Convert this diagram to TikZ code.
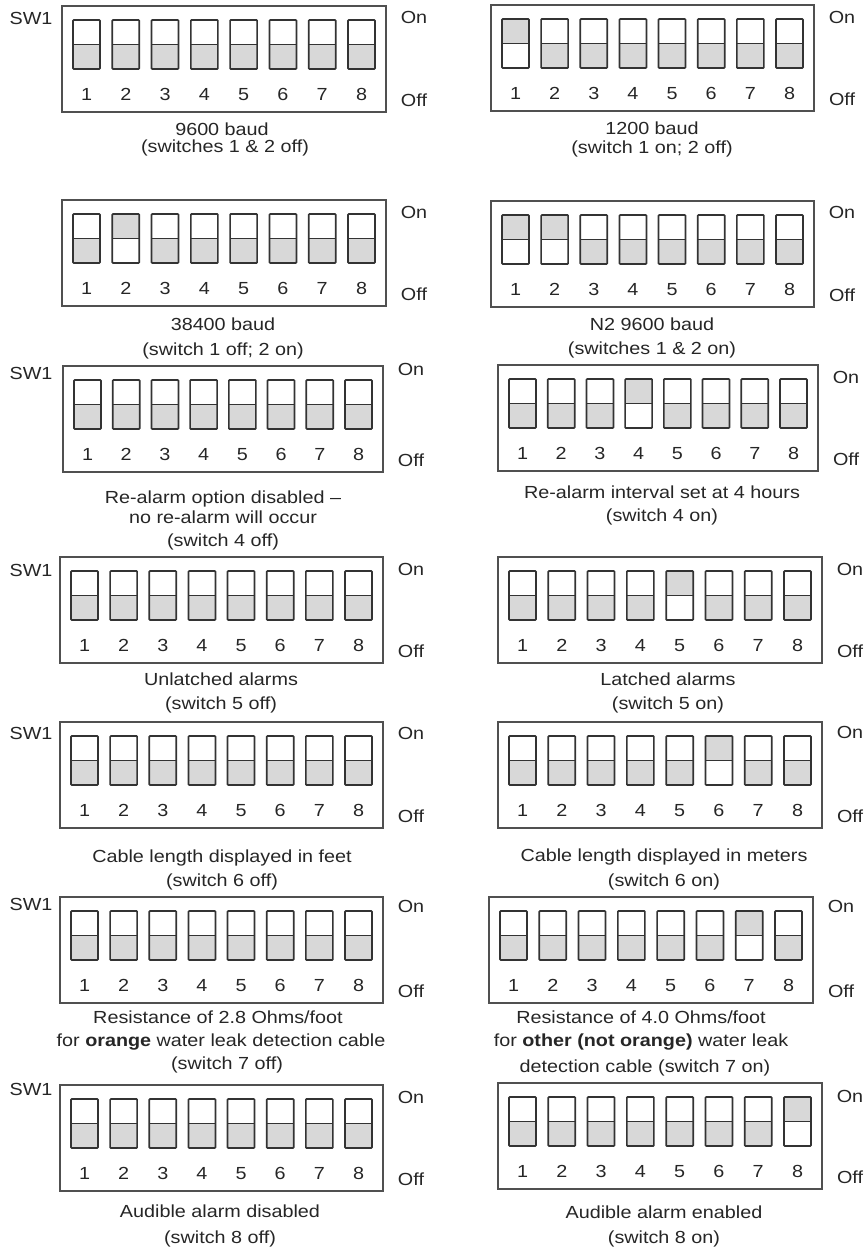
\documentclass[tikz,border=0pt]{standalone}
\usepackage{fontspec}
\setmainfont{Liberation Sans}
\definecolor{txt}{HTML}{262626}
\definecolor{frame}{HTML}{505050}
\definecolor{swline}{HTML}{333333}
\definecolor{swfill}{HTML}{D8D8D8}
\newcommand{\stx}[1]{\scalebox{1.13}[1]{#1}}
\tikzset{
  lbl/.style={font=\fontsize{17.5}{20}\selectfont, text=txt, inner sep=0pt, text height=12.5pt, text depth=0pt, anchor=center},
  frameline/.style={draw=frame, line width=1.4pt},
  swbox/.style={draw=swline, line width=1.7pt, rounded corners=0.8pt},
  swhalf/.style={fill=swfill},
  swmid/.style={draw=swline, line width=1.7pt},
}
% #1 id, #2 left, #3 top, #4 right, #5 states, #6 On y offset
\newcommand{\dippanel}[6]{%
  \pgfmathsetmacro{\pp}{(#4-#2-49)/7}
  \draw[frameline] (#2,#3) rectangle (#4,#3+106);
  \foreach \s [count=\i] in {#5} {
    \pgfmathsetmacro{\xa}{#2+11+(\i-1)*\pp}
    \pgfmathsetmacro{\xb}{\xa+27}
    \ifnum\s=1
      \fill[swhalf] (\xa,#3+14) rectangle (\xb,#3+38.5);
    \else
      \fill[swhalf] (\xa,#3+38.5) rectangle (\xb,#3+63);
    \fi
    \draw[swmid] (\xa,#3+38.5) -- (\xb,#3+38.5);
    \draw[swbox] (\xa,#3+14) rectangle (\xb,#3+63);
    \node[lbl] (#1n\i) at (\xa+13.5,#3+88) {\stx{\i}};
  }
  \node[lbl] (#1on) at (#4+28,#3+#6) {\stx{On}};
  \node[lbl] (#1off) at (#4+28,#3+94.5) {\stx{Off}};
}
\begin{document}
\begin{tikzpicture}[x=1pt,y=-1pt]
\useasboundingbox[fill=white] (0,0) rectangle (865,1248);

% Row 1
\node[lbl] (sw1a) at (31,18) {\stx{SW1}};
\dippanel{pa}{62}{6}{386}{0,0,0,0,0,0,0,0}{11}
\node[lbl] (ca1) at (222,129) {\stx{9600 baud}};
\node[lbl] (ca2) at (225,146) {\stx{(switches 1 \& 2 off)}};

\dippanel{pb}{491}{5}{814}{1,0,0,0,0,0,0,0}{12}
\node[lbl] (cb1) at (652,128) {\stx{1200 baud}};
\node[lbl] (cb2) at (652,147) {\stx{(switch 1 on; 2 off)}};

% Row 2
\dippanel{pc}{62}{200}{386}{0,1,0,0,0,0,0,0}{12}
\node[lbl] (cc1) at (223,324) {\stx{38400 baud}};
\node[lbl] (cc2) at (223,349) {\stx{(switch 1 off; 2 on)}};

\dippanel{pd}{491}{201}{814}{1,1,0,0,0,0,0,0}{11}
\node[lbl] (cd1) at (652,324) {\stx{N2 9600 baud}};
\node[lbl] (cd2) at (652,348) {\stx{(switches 1 \& 2 on)}};

% Row 3
\node[lbl] (sw1e) at (31,373) {\stx{SW1}};
\dippanel{pe}{63}{366}{383}{0,0,0,0,0,0,0,0}{3}
\node[lbl] (ce1) at (223,497) {\stx{Re-alarm option disabled –}};
\node[lbl] (ce2) at (223,517) {\stx{no re-alarm will occur}};
\node[lbl] (ce3) at (223,540) {\stx{(switch 4 off)}};

\dippanel{pf}{498}{365}{818}{0,0,0,1,0,0,0,0}{12}
\node[lbl] (cf1) at (662,492) {\stx{Re-alarm interval set at 4 hours}};
\node[lbl] (cf2) at (662,515) {\stx{(switch 4 on)}};

% Row 4
\node[lbl] (sw1g) at (31,570) {\stx{SW1}};
\dippanel{pg}{60}{557}{383}{0,0,0,0,0,0,0,0}{12}
\node[lbl] (cg1) at (221,679) {\stx{Unlatched alarms}};
\node[lbl] (cg2) at (221,703) {\stx{(switch 5 off)}};

\dippanel{ph}{498}{557}{822}{0,0,0,0,1,0,0,0}{12}
\node[lbl] (ch1) at (668,679) {\stx{Latched alarms}};
\node[lbl] (ch2) at (668,703) {\stx{(switch 5 on)}};

% Row 5
\node[lbl] (sw1i) at (31,733) {\stx{SW1}};
\dippanel{pi}{60}{722}{383}{0,0,0,0,0,0,0,0}{11}
\node[lbl] (ci1) at (222,856) {\stx{Cable length displayed in feet}};
\node[lbl] (ci2) at (222,880) {\stx{(switch 6 off)}};

\dippanel{pj}{498}{722}{822}{0,0,0,0,0,1,0,0}{10}
\node[lbl] (cj1) at (664,855) {\stx{Cable length displayed in meters}};
\node[lbl] (cj2) at (664,880) {\stx{(switch 6 on)}};

% Row 6
\node[lbl] (sw1k) at (31,904) {\stx{SW1}};
\dippanel{pk}{60}{897}{383}{0,0,0,0,0,0,0,0}{9}
\node[lbl] (ck1) at (218,1017) {\stx{Resistance of 2.8 Ohms/foot}};
\node[lbl] (ck2) at (221,1040) {\stx{for \textbf{orange} water leak detection cable}};
\node[lbl] (ck3) at (227,1063) {\stx{(switch 7 off)}};

\dippanel{pl}{489}{897}{813}{0,0,0,0,0,0,1,0}{9}
\node[lbl] (cl1) at (641,1017) {\stx{Resistance of 4.0 Ohms/foot}};
\node[lbl] (cl2) at (641,1040) {\stx{for \textbf{other (not orange)} water leak}};
\node[lbl] (cl3) at (645,1066) {\stx{detection cable (switch 7 on)}};

% Row 7
\node[lbl] (sw1m) at (31,1089) {\stx{SW1}};
\dippanel{pm}{60}{1085}{383}{0,0,0,0,0,0,0,0}{12}
\node[lbl] (cm1) at (220,1211) {\stx{Audible alarm disabled}};
\node[lbl] (cm2) at (220,1237) {\stx{(switch 8 off)}};

\dippanel{pn}{498}{1083}{822}{0,0,0,0,0,0,0,1}{13}
\node[lbl] (cn1) at (664,1212) {\stx{Audible alarm enabled}};
\node[lbl] (cn2) at (664,1237) {\stx{(switch 8 on)}};
\end{tikzpicture}
\end{document}
